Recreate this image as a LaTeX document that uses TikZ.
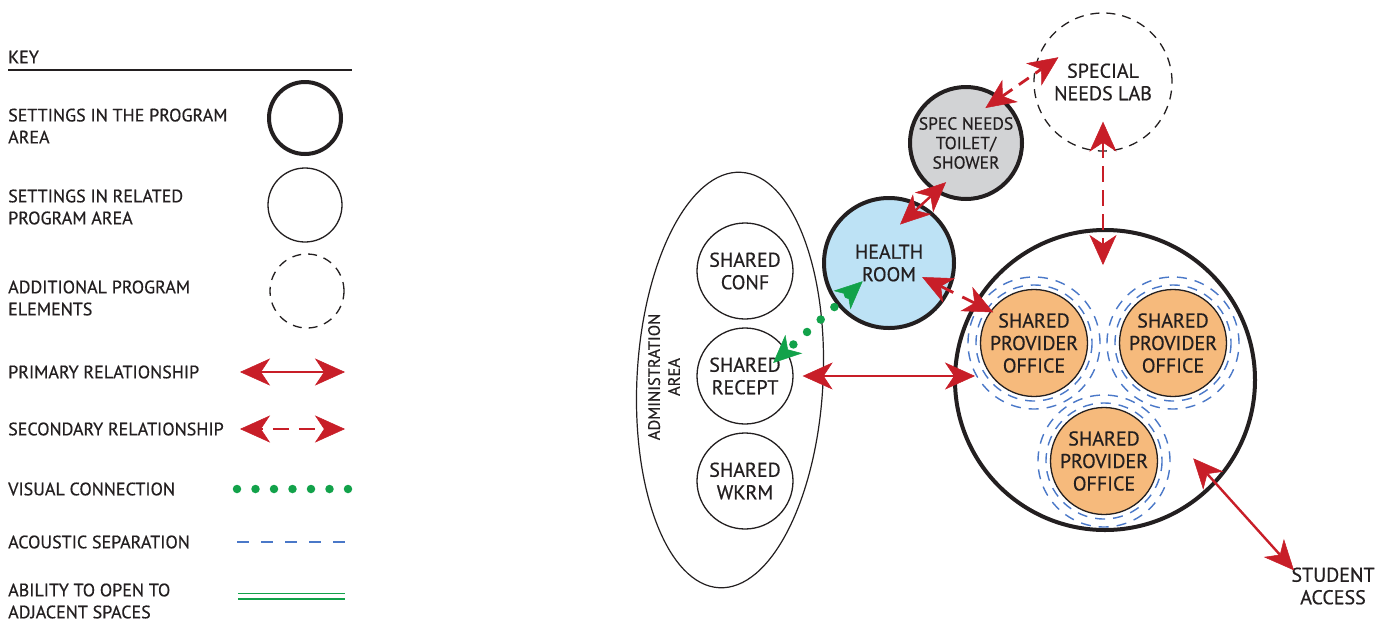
\documentclass[tikz,border=0pt]{standalone}
\usepackage{fontspec}
\setmainfont{PT Sans}[FakeBold=0.5]
\usetikzlibrary{arrows.meta,calc,positioning,shapes.geometric}

\definecolor{relred}{HTML}{C81E28}
\definecolor{visgreen}{HTML}{12A24A}
\definecolor{acublue}{HTML}{4A78C8}
\definecolor{healthblue}{HTML}{BDE2F5}
\definecolor{toiletgrey}{HTML}{D2D3D5}
\definecolor{officeorange}{HTML}{F6BA7C}
\definecolor{inkgrey}{HTML}{231F20}

\tikzset{
  keytext/.style={anchor=west, align=left, inner sep=0pt, text=inkgrey,
    font=\fontsize{18}{22}\selectfont},
  lbl/.style={align=center, inner sep=0pt, text=inkgrey,
    font=\fontsize{20}{22.5}\selectfont},
  related/.style={circle, draw=inkgrey, line width=1.3pt, lbl},
  setting/.style={related, line width=4pt},
  extra/.style={related, dashed, dash pattern=on 9pt off 7pt},
  primary/.style={draw=relred, line width=2.4pt, <->},
  secondary/.style={draw=relred, line width=2.8pt, dash pattern=on 16pt off 10pt, <->},
  visual/.style={draw=visgreen, line width=8.5pt, line cap=round,
    dash pattern=on 0pt off 18.5pt},
  acoustic/.style={draw=acublue, line width=1.4pt, dash pattern=on 10pt off 8pt}
}

\begin{document}
\begin{tikzpicture}[x=1pt, y=-1pt,
  >={Stealth[length=30pt, width=27pt, inset=9pt, line width=0.5pt]}]
\useasboundingbox[fill=white] (0,0) rectangle (1390,622);

% Key
\node[keytext] (keyhead) at (8,57) {KEY};
\draw[line width=2pt, inkgrey] (8,70) -- (352,70);

\node[keytext] (keyprogtxt) at (8,126) {SETTINGS IN THE PROGRAM\\AREA};
\node[setting, minimum size=72pt] (keyprog) at (305,118) {};

\node[keytext] (keyreltxt) at (8,207) {SETTINGS IN RELATED\\PROGRAM AREA};
\node[related, minimum size=74pt] (keyrel) at (305,205) {};

\node[keytext] (keyaddtxt) at (8,298) {ADDITIONAL PROGRAM\\ELEMENTS};
\node[extra, minimum size=74pt] (keyadd) at (307,291) {};

\node[keytext] (keyprim) at (8,372) {PRIMARY RELATIONSHIP};
\draw[primary] (240,372) -- (345,372);

\node[keytext] (keysec) at (8,429) {SECONDARY RELATIONSHIP};
\draw[secondary, dash phase=14pt] (240,429) -- (345,429);

\node[keytext] (keyvis) at (8,489) {VISUAL CONNECTION};
\draw[visual] (237,489) -- (348,489);

\node[keytext] (keyacu) at (8,542) {ACOUSTIC SEPARATION};
\draw[acoustic, dash pattern=on 12pt off 12pt] (237,542) -- (345,542);

\node[keytext] (keyopen) at (8,601) {ABILITY TO OPEN TO\\ADJACENT SPACES};
\draw[visgreen, line width=1.5pt, double=white, double distance=4pt] (238,596) -- (345,596);

% Administration area
\node[draw=inkgrey, line width=1.2pt, ellipse, minimum width=186pt,
  minimum height=416pt, rotate=-3] (admin) at (730,380) {};
\node[lbl, rotate=90, font=\fontsize{16.5}{20}\selectfont] (adminlbl) at (664,377) {ADMINISTRATION\\AREA};

\node[related, minimum size=96pt] (conf) at (745,271) {SHARED\\CONF};
\node[related, minimum size=96pt] (recept) at (745,376) {SHARED\\RECEPT};
\node[related, minimum size=96pt] (wkrm) at (745,481) {SHARED\\WKRM};

% Rooms of the program area
\node[setting, fill=healthblue, minimum size=130pt] (health) at (889,263) {HEALTH\\ROOM};
\node[setting, fill=toiletgrey, minimum size=112pt,
  font=\fontsize{17.5}{19.5}\selectfont] (toilet) at (966,143) {SPEC NEEDS\\TOILET/\\SHOWER};
\node[extra, minimum size=138pt] (lab) at (1103,82) {SPECIAL\\NEEDS LAB};
\node[setting, minimum size=300pt] (prog) at (1105,380) {};

\node[related, fill=officeorange, minimum size=107pt] (off1) at (1034,343) {SHARED\\PROVIDER\\OFFICE};
\node[related, fill=officeorange, minimum size=107pt] (off2) at (1173,343) {SHARED\\PROVIDER\\OFFICE};
\node[related, fill=officeorange, minimum size=107pt] (off3) at (1104,461) {SHARED\\PROVIDER\\OFFICE};

\foreach \o in {off1, off2, off3} {
  \draw[acoustic] (\o) circle [radius=58];
  \draw[acoustic, dash phase=9pt] (\o) circle [radius=66];
}

\node[lbl] (access) at (1333,586) {STUDENT\\ACCESS};

% Relationships
\draw[primary] ($(health)+(74:40pt)$) -- ($(toilet)+(243:44pt)$);
\draw[secondary, dash pattern=on 12pt off 8pt] ($(toilet)+(61:40pt)$) -- ($(lab)+(151:51pt)$);
\draw[secondary, dash pattern=on 14pt off 10pt] ($(health)+(-23:36pt)$) -- ($(off1)+(143:51pt)$);
\draw[primary, shorten <=9pt, shorten >=-22pt] (recept.east) -- (recept.east -| prog.west);
\draw[secondary, dash pattern=on 16pt off 8pt, shorten <=-30pt, shorten >=-37pt]
  (lab.south) -- (lab.south |- prog.north);
\draw[primary, shorten >=-4pt] ($(prog)+(-41.6:118pt)$) -- (access.north west);
\draw[visual, {Stealth[length=28pt, width=25pt, inset=8pt, line width=0.5pt]}-{Stealth[length=28pt, width=25pt, inset=8pt, line width=0.5pt]}]
  ($(health)+(214.7:32pt)$) -- ($(recept)+(24.9:31pt)$);

\end{tikzpicture}
\end{document}
